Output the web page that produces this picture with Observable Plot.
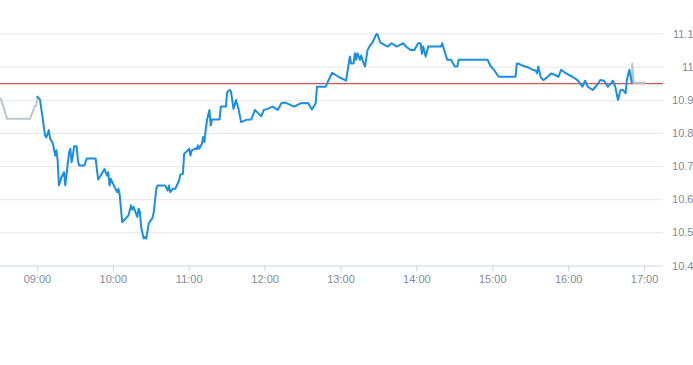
<!DOCTYPE html>
<html>
<head>
<meta charset="utf-8">
<script src="https://cdn.jsdelivr.net/npm/d3@7"></script>
<script src="https://cdn.jsdelivr.net/npm/@observablehq/plot@0.6"></script>
<style>
  html, body { margin: 0; padding: 0; background: #fff; }
  svg { display: block; }
</style>
</head>
<body>
<div id="chart"></div>
<script>
// Pre-market (grey)
const preTimes  = ["08:31","08:36","08:54","08:58","08:59","09:00"];
const prePrices = [10.905, 10.844, 10.844, 10.882, 10.884, 10.911];

// Session (blue)
const sessionTimes = ["09:00","09:02","09:04","09:06","09:07","09:09","09:10","09:12","09:13","09:14","09:15","09:16","09:17","09:19","09:21","09:22","09:25","09:26","09:27","09:28","09:29","09:31","09:32","09:33","09:37","09:39","09:46","09:48","09:50","09:51","09:53","09:55","09:56","09:57","09:58","10:01","10:03","10:04","10:05","10:07","10:09","10:12","10:14","10:15","10:16","10:18","10:19","10:20","10:21","10:22","10:24","10:25","10:26","10:28","10:30","10:31","10:32","10:34","10:35","10:41","10:43","10:44","10:45","10:47","10:49","10:52","10:53","10:55","10:56","10:59","11:00","11:01","11:02","11:05","11:06","11:07","11:08","11:10","11:11","11:12","11:13","11:14","11:16","11:17","11:18","11:24","11:25","11:29","11:30","11:32","11:33","11:35","11:37","11:39","11:41","11:45","11:49","11:52","11:55","11:57","11:59","12:02","12:06","12:10","12:13","12:16","12:23","12:28","12:34","12:37","12:40","12:41","12:48","12:50","12:53","12:58","13:04","13:07","13:08","13:10","13:11","13:12","13:13","13:15","13:16","13:18","13:19","13:21","13:23","13:25","13:28","13:29","13:31","13:34","13:37","13:40","13:44","13:49","13:52","13:55","13:58","14:01","14:03","14:04","14:05","14:07","14:09","14:19","14:20","14:24","14:27","14:30","14:32","14:33","14:56","14:58","15:01","15:04","15:05","15:18","15:19","15:20","15:24","15:28","15:31","15:34","15:35","15:36","15:38","15:40","15:43","15:46","15:49","15:52","15:54","15:58","16:03","16:07","16:09","16:11","16:13","16:15","16:19","16:23","16:25","16:28","16:31","16:33","16:35","16:37","16:39","16:41","16:43","16:45","16:46","16:48","16:50"];
const sessionPrices = [10.911,10.902,10.849,10.794,10.788,10.810,10.785,10.771,10.755,10.733,10.749,10.718,10.643,10.668,10.683,10.643,10.743,10.754,10.713,10.733,10.761,10.761,10.718,10.703,10.703,10.724,10.724,10.661,10.673,10.680,10.693,10.673,10.683,10.643,10.663,10.638,10.623,10.633,10.616,10.533,10.540,10.553,10.583,10.570,10.578,10.558,10.548,10.573,10.563,10.517,10.483,10.487,10.483,10.528,10.540,10.546,10.563,10.633,10.643,10.643,10.628,10.643,10.623,10.633,10.633,10.658,10.676,10.678,10.739,10.749,10.754,10.733,10.749,10.755,10.752,10.764,10.754,10.769,10.789,10.774,10.809,10.839,10.871,10.824,10.842,10.842,10.881,10.881,10.924,10.931,10.927,10.874,10.901,10.874,10.834,10.841,10.842,10.871,10.859,10.852,10.871,10.874,10.881,10.871,10.892,10.893,10.881,10.891,10.892,10.872,10.891,10.941,10.941,10.959,10.983,10.971,10.959,11.032,11.011,11.011,11.042,11.022,11.042,11.022,11.035,11.011,11.002,11.052,11.065,11.075,11.100,11.098,11.075,11.068,11.062,11.072,11.062,11.072,11.060,11.052,11.052,11.072,11.072,11.040,11.062,11.032,11.062,11.062,11.072,11.022,11.022,11.002,11.002,11.022,11.022,11.005,10.992,10.974,10.971,10.971,11.010,11.011,11.004,10.999,10.993,10.989,10.981,11.002,10.969,10.961,10.969,10.981,10.977,10.971,10.992,10.981,10.971,10.961,10.951,10.941,10.959,10.941,10.931,10.949,10.961,10.959,10.941,10.949,10.959,10.939,10.901,10.931,10.931,10.921,10.961,10.992,10.951];

// After-hours (grey)
const postTimes  = ["16:50:00","16:50:20","16:51:30","17:01:00"];
const postPrices = [10.951, 11.011, 10.953, 10.953];

const previousClose = 10.95;

const xTickLabels = ["09:00","10:00","11:00","12:00","13:00","14:00","15:00","16:00","17:00"];
const yTicks = [10.4, 10.5, 10.6, 10.7, 10.8, 10.9, 11, 11.1];
const xDomain = ["08:30", "17:15"];

const parse = s => d3.utcParse(s.length > 5 ? "%H:%M:%S" : "%H:%M")(s);
const toRows = (ts, ps) => ts.map((t, i) => ({time: parse(t), price: ps[i]}));

const pre = toRows(preTimes, prePrices);
const session = toRows(sessionTimes, sessionPrices);
const post = toRows(postTimes, postPrices);

const labelColor = "#7f8b98";
const chart = Plot.plot({
  width: 693,
  height: 365,
  marginLeft: 0,
  marginRight: 30,
  marginTop: 33.5,
  marginBottom: 99.5,
  style: {fontFamily: "'Liberation Sans', Arial, sans-serif", fontSize: "11px", background: "#fff"},
  x: {type: "utc", domain: xDomain.map(parse), range: [-1, 663], label: null},
  y: {domain: [10.4, 11.1], label: null},
  marks: [
    Plot.gridY(yTicks.filter(d => d !== 10.4), {stroke: "#e6e6e6", strokeOpacity: 1}),
    Plot.ruleY([10.4], {stroke: "#ccd6eb"}),
    Plot.axisX({ticks: xTickLabels.map(parse), tickFormat: d3.utcFormat("%H:%M"), tickSize: 6, tickPadding: 3, stroke: "#ccd6eb", fill: labelColor, label: null}),
    Plot.axisY({ticks: yTicks, anchor: "right", tickSize: 0, tickPadding: 30, textAnchor: "end", tickFormat: d => String(d), fill: labelColor, label: null}),
    Plot.ruleY([previousClose], {stroke: "#cc2a2a", strokeWidth: 1}),
    Plot.line(pre, {x: "time", y: "price", stroke: "#bcc5cc", strokeWidth: 2, strokeLinejoin: "round"}),
    Plot.line(post, {x: "time", y: "price", stroke: "#bcc5cc", strokeWidth: 2, strokeLinejoin: "round"}),
    Plot.line(session, {x: "time", y: "price", stroke: "#1a8fe0", strokeWidth: 2, strokeLinejoin: "round"})
  ]
});
document.getElementById("chart").appendChild(chart);
</script>
</body>
</html>
